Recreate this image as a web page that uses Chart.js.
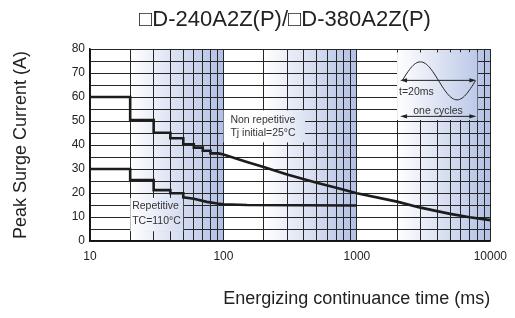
<!DOCTYPE html>
<html>
<head>
<meta charset="utf-8">
<script src="https://cdn.jsdelivr.net/npm/chart.js@4/dist/chart.umd.min.js"></script>
<style>
    html, body { margin: 0; padding: 0; background: #fff; }
    canvas { display: block; }
</style>
</head>
<body>
<canvas id="surgeChart" width="515" height="318"></canvas>
<script>
const chartTitle = '□D-240A2Z(P)/□D-380A2Z(P)';
const xAxisTitle = 'Energizing continuance time (ms)';
const yAxisTitle = 'Peak Surge Current (A)';

// log axis grid: 10..90, 100..900, 1000..10000
const xTickValues = [10, 20, 30, 40, 50, 60, 70, 80, 90,
    100, 200, 300, 400, 500, 600, 700, 800, 900,
    1000, 2000, 3000, 4000, 5000, 6000, 7000, 8000, 9000, 10000];
const xTickLabels = ['10', '100', '1000', '10000'];
const yTickLabels = ['0', '10', '20', '30', '40', '50', '60', '70', '80'];

// Non repetitive, Tj initial = 25°C
const nonRepTime    = [10, 20, 20, 30, 30, 40, 40, 50, 50, 60, 60, 70, 70, 80, 80, 92, 100, 150, 200, 300, 500, 700, 1000, 2000, 3000, 5000, 7000, 10000];
const nonRepCurrent = [60, 60, 50.4, 50.4, 45.1, 45.1, 42.8, 42.8, 40.3, 40.3, 38.9, 38.9, 37.6, 37.6, 36.5, 36.5, 36.0, 32.9, 30.8, 27.7, 24.3, 22.2, 19.9, 16.4, 13.9, 11.3, 9.9, 8.7];

// Repetitive, TC = 110°C
const repTime    = [10, 20, 20, 30, 30, 40, 40, 50, 50, 60, 75, 90, 100, 150, 1000];
const repCurrent = [30, 30, 25.4, 25.4, 21.2, 21.2, 19.9, 19.9, 18.2, 17.6, 16.3, 15.6, 15.3, 15.0, 14.8];

const shadeDecades = [10, 100, 1000];
const shadeColor = [178, 192, 228];
const ink = '#1c1c1c';
const fontFamily = "'Liberation Sans', Arial, sans-serif";

const fillShade = (chart, box) => {
    const { ctx, chartArea: area, scales: { x } } = chart;
    ctx.save();
    ctx.beginPath();
    ctx.rect(box.left, box.top, box.right - box.left, box.bottom - box.top);
    ctx.clip();
    ctx.fillStyle = '#fff';
    ctx.fillRect(box.left, box.top, box.right - box.left, box.bottom - box.top);
    shadeDecades.forEach(d => {
        const x0 = x.getPixelForValue(d * 2);
        const x1 = x.getPixelForValue(d * 10);
        const g = ctx.createLinearGradient(x0, 0, x1, 0);
        g.addColorStop(0, `rgba(${shadeColor.join(',')},0)`);
        g.addColorStop(1, `rgb(${shadeColor.join(',')})`);
        ctx.fillStyle = g;
        ctx.fillRect(x0, area.top, x1 - x0, area.bottom - area.top);
    });
    ctx.restore();
};

const boxPx = (chart, b) => {
    const { x, y } = chart.scales;
    return {
        left: x.getPixelForValue(b.x0),
        right: x.getPixelForValue(b.x1),
        top: y.getPixelForValue(b.y1),
        bottom: y.getPixelForValue(b.y0)
    };
};

const arrow = (ctx, xa, xb, yy) => {
    ctx.beginPath();
    ctx.moveTo(xa + 5, yy);
    ctx.lineTo(xb - 5, yy);
    ctx.stroke();
    [[xa, 1], [xb, -1]].forEach(([px, dir]) => {
        ctx.beginPath();
        ctx.moveTo(px, yy);
        ctx.lineTo(px + dir * 7, yy - 2.2);
        ctx.lineTo(px + dir * 7, yy + 2.2);
        ctx.closePath();
        ctx.fill();
    });
};

const notes = [
    { x0: 100, x1: 410, y0: 41, y1: 54.5, dx: 7, lines: [['Non repetitive', 10], ['Tj initial=25°C', 23]] },
    { x0: 20, x1: 50, y0: 4, y1: 18, dx: 2, lines: [['Repetitive', 8], ['TC=110°C', 23]] }
];
const insetBox = { x0: 2000, x1: 8000, y0: 50.4, y1: 78.6 };

const backdropPlugin = {
    id: 'backdrop',
    beforeDraw(chart) {
        const { ctx, width, height, chartArea } = chart;
        ctx.save();
        ctx.fillStyle = '#fff';
        ctx.fillRect(0, 0, width, height);
        ctx.restore();
        fillShade(chart, chartArea);
    },
    beforeDatasetsDraw(chart) {
        const ctx = chart.ctx;
        notes.forEach(n => {
            const b = boxPx(chart, n);
            fillShade(chart, b);
            ctx.save();
            ctx.fillStyle = '#333';
            ctx.font = `10.5px ${fontFamily}`;
            ctx.textBaseline = 'middle';
            n.lines.forEach(([txt, dy]) => ctx.fillText(txt, b.left + n.dx, b.top + dy));
            ctx.restore();
        });

        // sine wave inset
        const b = boxPx(chart, insetBox);
        fillShade(chart, b);
        ctx.save();
        ctx.strokeStyle = '#222';
        ctx.fillStyle = '#222';
        ctx.lineWidth = 1;
        const sx0 = b.left + 5, sx1 = b.right - 2, cy = b.top + 28.5;
        ctx.beginPath();
        for (let i = 0; i <= 60; i++) {
            const t = i / 60;
            const px = sx0 + t * (sx1 - sx0);
            const py = cy - 19 * Math.sin(2 * Math.PI * t);
            i ? ctx.lineTo(px, py) : ctx.moveTo(px, py);
        }
        ctx.stroke();
        arrow(ctx, b.left + 3, b.right - 1, b.top + 28);
        arrow(ctx, b.left + 3, b.right - 1, b.top + 64);
        ctx.fillStyle = '#333';
        ctx.font = `10.5px ${fontFamily}`;
        ctx.textBaseline = 'middle';
        ctx.fillText('t=20ms', b.left + 2, b.top + 40);
        ctx.textAlign = 'center';
        ctx.fillText('one cycles', b.left + 41, b.top + 58.5);
        ctx.restore();
    },
    afterDraw(chart) {
        // title sits a little left of the plot centre in the original
        const ctx = chart.ctx;
        ctx.save();
        ctx.fillStyle = '#222';
        ctx.font = `22px ${fontFamily}`;
        ctx.textAlign = 'center';
        ctx.textBaseline = 'middle';
        ctx.fillText(chartTitle, 285, 20);
        ctx.restore();
    }
};

const toPoints = (xs, ys) => xs.map((t, i) => ({ x: t, y: ys[i] }));

const lineStyle = {
    borderColor: ink,
    borderWidth: 2.6,
    pointRadius: 0,
    fill: false,
    tension: 0,
    borderJoinStyle: 'miter'
};

new Chart(document.getElementById('surgeChart'), {
    type: 'line',
    data: {
        datasets: [
            { label: 'Non repetitive', data: toPoints(nonRepTime, nonRepCurrent), ...lineStyle },
            { label: 'Repetitive', data: toPoints(repTime, repCurrent), ...lineStyle }
        ]
    },
    options: {
        responsive: false,
        animation: false,
        layout: { padding: { left: 10, right: 23, top: 49, bottom: 8 } },
        plugins: {
            legend: { display: false },
            tooltip: { enabled: false },
            title: { display: false }
        },
        scales: {
            x: {
                type: 'logarithmic',
                min: 10,
                max: 10000,
                afterBuildTicks: scale => { scale.ticks = xTickValues.map(v => ({ value: v })); },
                afterFit: scale => { scale.height = 69; },
                grid: { color: '#262626', lineWidth: 1, drawTicks: false },
                border: { color: '#111', width: 1.5 },
                ticks: {
                    autoSkip: false,
                    maxRotation: 0,
                    padding: 8,
                    color: '#222',
                    font: { family: fontFamily, size: 12 },
                    callback: v => xTickLabels.includes(String(v)) ? String(v) : ''
                },
                title: {
                    display: true,
                    text: xAxisTitle,
                    align: 'end',
                    color: '#222',
                    padding: 0,
                    font: { family: fontFamily, size: 18 }
                }
            },
            y: {
                min: 0,
                max: 80,
                afterFit: scale => { scale.width = 80; },
                grid: { color: '#262626', lineWidth: 1, drawTicks: false },
                border: { color: '#111', width: 1.5 },
                ticks: {
                    stepSize: 5,
                    autoSkip: false,
                    padding: 5,
                    color: '#222',
                    font: { family: fontFamily, size: 12 },
                    callback: v => yTickLabels.includes(String(v)) ? String(v) : ''
                },
                title: {
                    display: true,
                    text: yAxisTitle,
                    color: '#222',
                    padding: 0,
                    font: { family: fontFamily, size: 18 }
                }
            }
        }
    },
    plugins: [backdropPlugin]
});
</script>
</body>
</html>
